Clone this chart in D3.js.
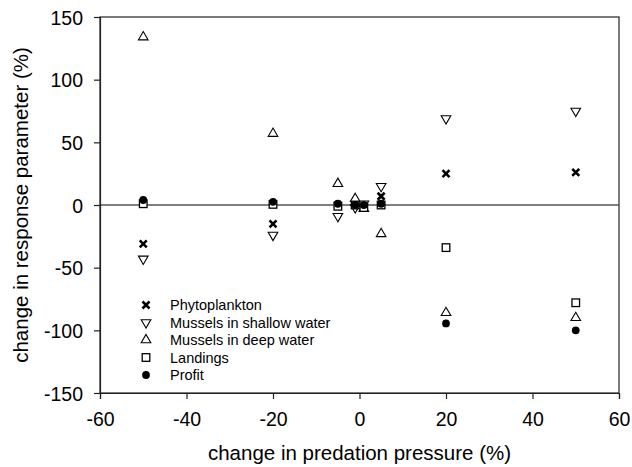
<!DOCTYPE html>
<html>
<head>
<meta charset="utf-8">
<script src="https://cdn.jsdelivr.net/npm/d3@7"></script>
<style>
  body { margin: 0; background: #fff; }
  text { font-family: "Liberation Sans", Arial, sans-serif; fill: #000; }
</style>
</head>
<body>
<div id="chart"></div>
<script>
var w = 632,
    h = 467,
    m = [17, 13, 74, 100]; // top right bottom left

// change in predation pressure (%)
var xs = [-50, -20, -5, -1, 1, 5, 20, 50];

// change in response parameter (%)
var phyto    = [-31, -15, 0, 0.5, -1, 7, 25, 26];
var shallow  = [-43, -24, -9, -2, 1, 15, 69, 75];
var deep     = [134, 57, 17, 5, -3, -23, -86, -90];
var landings = [1, 0.5, -1, 0, -2, 0, -34, -78];
var profit   = [4, 2.5, 1, 0, 0, 1, -94.5, -100];

var xTicks = [-60, -40, -20, 0, 20, 40, 60];
var yTicks = [-150, -100, -50, 0, 50, 100, 150];

var seriesNames = ["Phytoplankton", "Mussels in shallow water", "Mussels in deep water", "Landings", "Profit"];
var seriesValues = [phyto, shallow, deep, landings, profit];
var seriesShapes = ["cross", "down", "up", "square", "circle"];

var iw = w - m[1] - m[3],
    ih = h - m[0] - m[2];

var x = d3.scaleLinear().domain([-60, 60]).range([0, iw]);
var y = d3.scaleLinear().domain([-150, 150]).range([ih, 0]);

var svg = d3.select("#chart").append("svg")
    .attr("width", w)
    .attr("height", h);

var g = svg.append("g")
    .attr("transform", "translate(" + m[3] + "," + m[0] + ")");

// frame
g.append("rect")
    .attr("width", iw)
    .attr("height", ih)
    .attr("fill", "none")
    .attr("stroke", "#222")
    .attr("stroke-width", 1.2);

// zero line
g.append("line")
    .attr("x1", 0).attr("x2", iw)
    .attr("y1", y(0)).attr("y2", y(0))
    .attr("stroke", "#555")
    .attr("stroke-width", 1.5);

// plain hyphen for negatives, like the original
var fmt = function(d) { return String(d); };

var xAxis = g.append("g")
    .attr("transform", "translate(0," + ih + ")")
    .call(d3.axisBottom(x).tickValues(xTicks).tickFormat(fmt).tickSize(6).tickPadding(13));

var yAxis = g.append("g")
    .call(d3.axisLeft(y).tickValues(yTicks).tickFormat(fmt).tickSize(6).tickPadding(11));

[xAxis, yAxis].forEach(function(a) {
  a.select(".domain").attr("stroke", "#222").attr("stroke-width", 1.2);
  a.selectAll(".tick line").attr("stroke", "#222").attr("stroke-width", 1.2);
  a.selectAll(".tick text")
      .attr("font-size", 19.5)
      .attr("font-family", "Liberation Sans, Arial, sans-serif")
      .attr("fill", "#000");
});
yAxis.selectAll(".tick text").attr("dy", "0.36em");

svg.append("text")
    .attr("x", m[3] + iw / 2)
    .attr("y", 460)
    .attr("text-anchor", "middle")
    .attr("font-size", 20.5)
    .text("change in predation pressure (%)");

svg.append("text")
    .attr("transform", "translate(28," + (m[0] + ih / 2) + ") rotate(-90)")
    .attr("text-anchor", "middle")
    .attr("font-size", 20.5)
    .text("change in response parameter (%)");

function drawMarker(sel, shape) {
  if (shape === "cross") {
    sel.append("path")
        .attr("d", "M-3.5,-3.5L3.5,3.5M-3.5,3.5L3.5,-3.5")
        .attr("stroke", "#000")
        .attr("stroke-width", 2.6)
        .attr("fill", "none");
  } else if (shape === "up" || shape === "down") {
    sel.append("path")
        .attr("d", d3.symbol().type(d3.symbolTriangle).size(40)())
        .attr("transform", shape === "down" ? "rotate(180)" : null)
        .attr("fill", "#fff")
        .attr("stroke", "#000")
        .attr("stroke-width", 1.1);
  } else if (shape === "square") {
    sel.append("rect")
        .attr("x", -3.8).attr("y", -3.8)
        .attr("width", 7.6).attr("height", 7.6)
        .attr("fill", "#fff")
        .attr("stroke", "#000")
        .attr("stroke-width", 1.3);
  } else {
    sel.append("circle")
        .attr("r", 3.9)
        .attr("fill", "#000");
  }
}

// points
seriesValues.forEach(function(vals, i) {
  var pts = g.append("g").selectAll("g")
      .data(vals)
    .enter().append("g")
      .attr("transform", function(d, j) { return "translate(" + x(xs[j]) + "," + y(d) + ")"; });
  drawMarker(pts, seriesShapes[i]);
});

// legend
var legend = svg.append("g")
    .attr("transform", "translate(146,305)");

seriesNames.forEach(function(name, i) {
  var row = legend.append("g")
      .attr("transform", "translate(0," + i * 17.5 + ")");
  drawMarker(row, seriesShapes[i]);
  row.append("text")
      .attr("x", 24)
      .attr("dy", "0.36em")
      .attr("font-size", 14.5)
      .text(name);
});
</script>
</body>
</html>
